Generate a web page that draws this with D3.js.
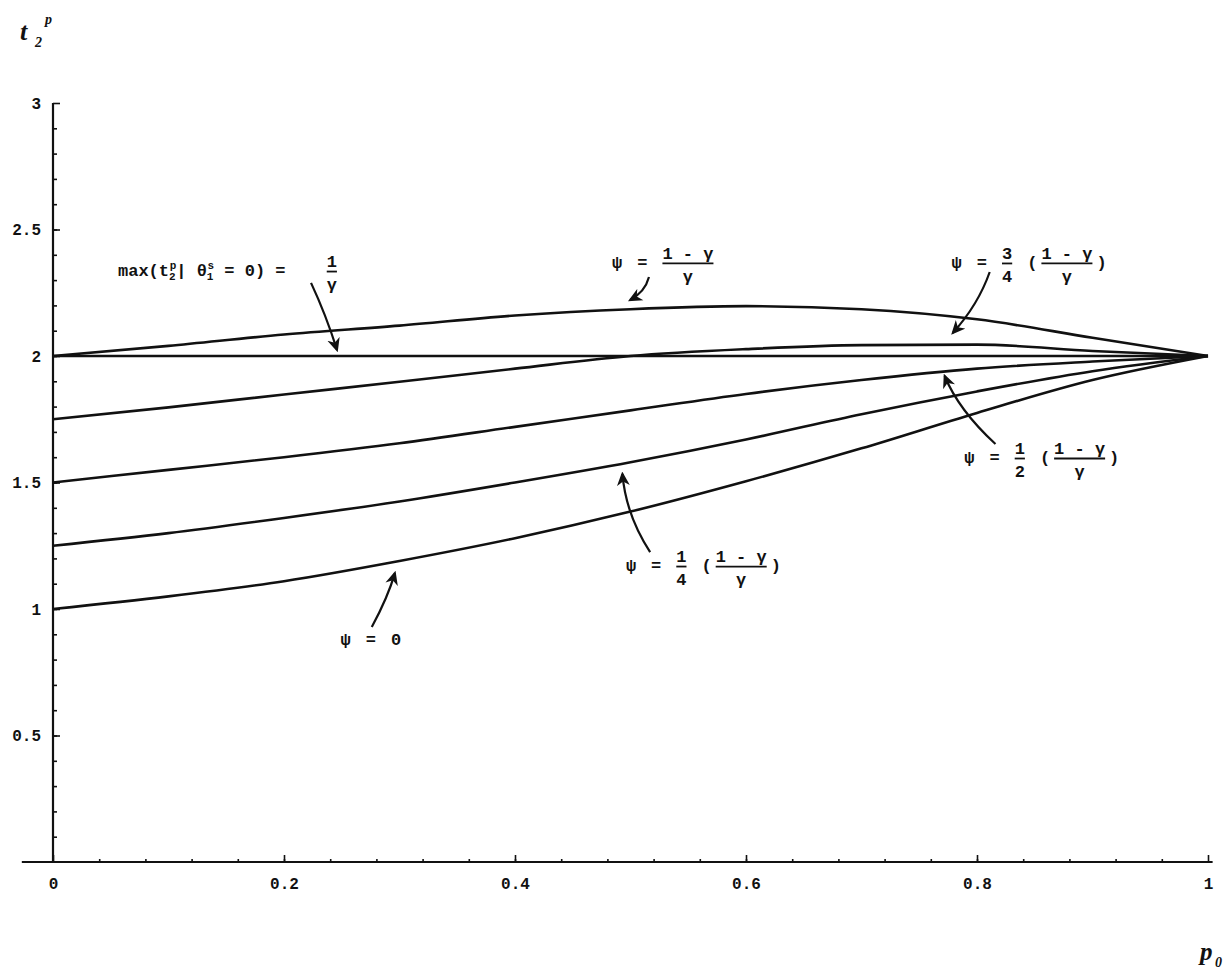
<!DOCTYPE html>
<html>
<head>
<meta charset="utf-8">
<script src="https://cdn.jsdelivr.net/npm/d3@7"></script>
<style>
body{ margin:0; background:#fff; }
svg{ display:block; background:#fff; }
.tick text{ font-family:"Liberation Mono","DejaVu Sans Mono",monospace; font-weight:bold; font-size:16px; fill:#111; }
.tick line{ stroke:#111; stroke-width:1.6px; }
.note{ font-family:"Liberation Mono","DejaVu Sans Mono",monospace; font-weight:bold; font-size:17px; fill:#111; }
.curve{ fill:none; stroke:#111; stroke-width:2.6px; stroke-linejoin:round; }
.arrow{ fill:none; stroke:#111; stroke-width:2.2px; }
.axisline{ stroke:#111; stroke-width:2.2px; }
.ttl{ font-family:"Liberation Serif","DejaVu Serif",serif; font-style:italic; font-weight:bold; fill:#111; }
</style>
</head>
<body>
<svg id="chart" width="1227" height="975"></svg>
<script>

// p0 grid
var p0 = [0, 0.1, 0.2, 0.3, 0.4, 0.5, 0.6, 0.7, 0.8, 0.9, 1];

// t2^p for each psi
var psi_full    = [2.00, 2.04, 2.085, 2.12, 2.16, 2.185, 2.197, 2.185, 2.145, 2.072, 2.00];
var max_theta0  = [2.00, 2.00, 2.00, 2.00, 2.00, 2.00, 2.00, 2.00, 2.00, 2.00, 2.00];
var psi_3q      = [1.75, 1.797, 1.848, 1.898, 1.95, 2.0, 2.027, 2.043, 2.045, 2.02, 2.00];
var psi_half    = [1.50, 1.55, 1.60, 1.655, 1.72, 1.785, 1.85, 1.905, 1.95, 1.978, 2.00];
var psi_1q      = [1.25, 1.30, 1.36, 1.425, 1.50, 1.58, 1.67, 1.77, 1.86, 1.94, 2.00];
var psi_zero    = [1.00, 1.05, 1.11, 1.19, 1.28, 1.385, 1.505, 1.635, 1.775, 1.905, 2.00];

var series_list = [psi_full, max_theta0, psi_3q, psi_half, psi_1q, psi_zero];

var x_ticks = [0, 0.2, 0.4, 0.6, 0.8, 1];
var y_ticks = [0.5, 1, 1.5, 2, 2.5, 3];


var svg = d3.select("#chart");
var margin = {left: 53, right: 19, top: 103, bottom: 113},
    width  = +svg.attr("width")  - margin.left - margin.right,
    height = +svg.attr("height") - margin.top  - margin.bottom;

var xAxis = d3.scaleLinear().domain([0, 1]).range([0, width]);
var yAxis = d3.scaleLinear().domain([0, 3]).range([height, 0]);

var g = svg.append("g")
    .attr("transform", "translate(" + margin.left + "," + margin.top + ")");

// arrow head
svg.append("defs").append("marker")
    .attr("id", "head")
    .attr("viewBox", "0 -6 12 12")
    .attr("refX", 10).attr("refY", 0)
    .attr("markerUnits", "userSpaceOnUse")
    .attr("markerWidth", 14).attr("markerHeight", 14)
    .attr("orient", "auto")
  .append("path")
    .attr("d", "M0,-5.5L12,0L0,5.5L3.5,0Z")
    .attr("fill", "#111");

// ---- axes
g.append("line").attr("class", "axisline")
    .attr("x1", xAxis(-0.027)).attr("x2", xAxis(1.004))
    .attr("y1", yAxis(0)).attr("y2", yAxis(0));
g.append("line").attr("class", "axisline")
    .attr("x1", xAxis(0)).attr("x2", xAxis(0))
    .attr("y1", yAxis(0)).attr("y2", yAxis(3));

// minor ticks
g.append("g")
    .attr("transform", "translate(0," + height + ")")
    .call(d3.axisBottom(xAxis).tickValues(d3.range(1, 25).map(function(i){ return i*0.04; }))
        .tickSize(-3).tickFormat(""))
    .call(function(s){ s.select(".domain").remove(); });
g.append("g")
    .call(d3.axisLeft(yAxis).tickValues(d3.range(1, 30).map(function(i){ return i*0.1; }))
        .tickSize(-4).tickFormat(""))
    .call(function(s){ s.select(".domain").remove(); });

// major ticks + labels
g.append("g")
    .attr("transform", "translate(0," + height + ")")
    .call(d3.axisBottom(xAxis).tickValues(x_ticks).tickSize(-7).tickPadding(16)
        .tickFormat(function(d){ return d3.format("")(+d.toFixed(1)); }))
    .call(function(s){ s.select(".domain").remove(); });
g.append("g")
    .call(d3.axisLeft(yAxis).tickValues(y_ticks).tickSize(-7).tickPadding(12)
        .tickFormat(function(d){ return d3.format("")(d); }))
    .call(function(s){ s.select(".domain").remove(); });

// ---- curves
var line = d3.line()
    .x(function(d, i){ return xAxis(p0[i]); })
    .y(function(d){ return yAxis(d); })
    .curve(d3.curveMonotoneX);

g.selectAll("path.curve")
    .data(series_list)
    .enter()
    .append("path")
    .attr("class", "curve")
    .attr("d", line);

// ---- axis titles
var yt = svg.append("text").attr("class", "ttl").attr("x", 20).attr("y", 40);
yt.append("tspan").attr("font-size", 26).text("t");
yt.append("tspan").attr("font-size", 14).attr("x", 35).attr("y", 47).text("2");
yt.append("tspan").attr("font-size", 14).attr("x", 45).attr("y", 24).text("p");

var xt = svg.append("text").attr("class", "ttl").attr("x", 1200).attr("y", 960);
xt.append("tspan").attr("font-size", 25).text("p");
xt.append("tspan").attr("font-size", 14).attr("x", 1215).attr("y", 967).text("0");

// ---- annotations (positions in p0 / t2 units)
function put_note(px, py, parts){
    var cx = xAxis(px), cy = yAxis(py);
    parts.forEach(function(d){
        var gap = d.gap === undefined ? 15 : d.gap;
        if (d.frac){
            var tn = g.append("text").attr("class", "note").attr("text-anchor", "middle")
                .attr("y", cy - 9).text(d.frac[0]);
            var td = g.append("text").attr("class", "note").attr("text-anchor", "middle")
                .attr("y", cy + 14).text(d.frac[1]);
            var w = Math.max(tn.node().getComputedTextLength(), td.node().getComputedTextLength());
            tn.attr("x", cx + w/2);
            td.attr("x", cx + w/2);
            g.append("line").attr("stroke", "#111").attr("stroke-width", 1.8)
                .attr("x1", cx).attr("x2", cx + w)
                .attr("y1", cy - 4.5).attr("y2", cy - 4.5);
            cx += w + gap;
        } else {
            var t = g.append("text").attr("class", "note").attr("x", cx).attr("y", cy).text(d.t);
            cx += t.node().getComputedTextLength() + gap;
        }
    });
}

function put_arrow(tail, ctrl, head){
    var p = d3.path();
    p.moveTo(xAxis(tail[0]), yAxis(tail[1]));
    p.quadraticCurveTo(xAxis(ctrl[0]), yAxis(ctrl[1]), xAxis(head[0]), yAxis(head[1]));
    g.append("path").attr("class", "arrow").attr("d", p.toString())
        .attr("marker-end", "url(#head)");
}

// max(t2^p | theta1^s = 0) = 1/gamma
var t1 = g.append("text").attr("class", "note")
    .attr("x", xAxis(0.0563)).attr("y", yAxis(2.316));
t1.append("tspan").text("max(t");
t1.append("tspan").attr("font-size", 11).attr("dy", 4).text("2");
t1.append("tspan").attr("font-size", 11).attr("dx", -6).attr("dy", -11).text("p");
t1.append("tspan").attr("dy", 7).text("| \u03b8");
t1.append("tspan").attr("font-size", 11).attr("dy", 4).text("1");
t1.append("tspan").attr("font-size", 11).attr("dx", -6).attr("dy", -11).text("s");
t1.append("tspan").attr("dy", 7).text(" = 0)  =");
put_note(0.237, 2.316, [{frac: ["1", "\u03b3"]}]);
put_arrow([0.2234, 2.289], [0.2364, 2.162], [0.2459, 2.024]);

put_note(0.484, 2.348, [{t: "\u03c8"}, {t: "="}, {frac: ["1 - \u03b3", "\u03b3"]}]);
put_arrow([0.516, 2.312], [0.5126, 2.253], [0.4996, 2.221]);

put_note(0.778, 2.348, [{t: "\u03c8"}, {t: "="}, {frac: ["3", "4"]}, {t: "(", gap: 4}, {frac: ["1 - \u03b3", "\u03b3"], gap: 4}, {t: ")"}]);
put_arrow([0.811, 2.332], [0.801, 2.202], [0.779, 2.091]);

put_note(0.789, 1.577, [{t: "\u03c8"}, {t: "="}, {frac: ["1", "2"]}, {t: "(", gap: 4}, {frac: ["1 - \u03b3", "\u03b3"], gap: 4}, {t: ")"}]);
put_arrow([0.816, 1.652], [0.784, 1.787], [0.772, 1.921]);

put_note(0.496, 1.150, [{t: "\u03c8"}, {t: "="}, {frac: ["1", "4"]}, {t: "(", gap: 4}, {frac: ["1 - \u03b3", "\u03b3"], gap: 4}, {t: ")"}]);
put_arrow([0.517, 1.225], [0.496, 1.372], [0.493, 1.534]);

put_note(0.249, 0.858, [{t: "\u03c8"}, {t: "="}, {t: "0"}]);
put_arrow([0.276, 0.929], [0.290, 1.047], [0.296, 1.142]);

</script>
</body>
</html>
